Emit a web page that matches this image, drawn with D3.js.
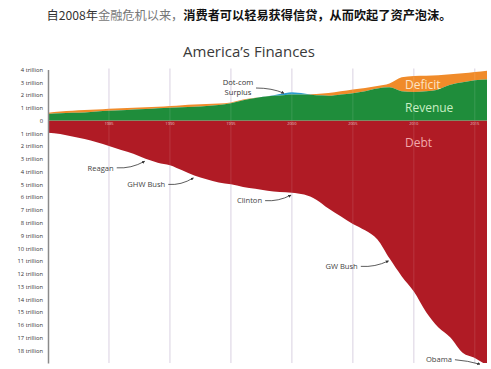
<!DOCTYPE html>
<html>
<head>
<meta charset="utf-8">
<script src="https://cdn.jsdelivr.net/npm/d3@7"></script>
<style>
  html, body { margin: 0; padding: 0; background: #fff; }
  svg { display: block; }
</style>
</head>
<body>
<svg id="chart"></svg>
<script>
// values, in trillions of dollars
const years = d3.range(1980, 2017)
const revenue = [0.52, 0.58, 0.62, 0.64, 0.70, 0.76, 0.80, 0.86, 0.90, 0.96,
  1.00, 1.04, 1.08, 1.14, 1.22, 1.36, 1.60, 1.76, 1.90, 2.08,
  2.22, 2.12, 1.98, 1.94, 2.04, 2.14, 2.30, 2.52, 2.60, 2.30,
  2.24, 2.30, 2.44, 2.80, 3.00, 3.16, 3.22]
const spending = [0.62, 0.70, 0.76, 0.82, 0.86, 0.92, 0.96, 1.00, 1.04, 1.08,
  1.14, 1.20, 1.26, 1.30, 1.34, 1.42, 1.64, 1.78, 1.90, 1.96,
  2.04, 2.04, 2.08, 2.16, 2.30, 2.44, 2.56, 2.70, 2.90, 3.40,
  3.50, 3.52, 3.54, 3.62, 3.70, 3.80, 3.90]
const debt = [0.95, 1.05, 1.25, 1.45, 1.70, 2.00, 2.30, 2.60, 3.00, 3.30,
  3.50, 3.90, 4.30, 4.60, 4.85, 5.00, 5.20, 5.35, 5.50, 5.60,
  5.65, 5.80, 6.20, 6.90, 7.50, 8.10, 8.60, 9.30, 10.8, 12.2,
  13.4, 15.0, 16.2, 17.0, 18.2, 18.6, 19.2]
const gridYears = [1985, 1990, 1995, 2000, 2005, 2010, 2015]
const yTicks = d3.range(-18, 5)
const presidents = [
  { name: 'Reagan', year: 1988, dx: -58, dy: 7 },
  { name: 'GHW Bush', year: 1992, dx: -67, dy: 7 },
  { name: 'Clinton', year: 2000, dx: -55, dy: 6 },
  { name: 'GW Bush', year: 2008, dx: -64, dy: 6 },
  { name: 'Obama', year: 2015.5, dx: -55, dy: -4 }
]

const width = 491
const height = 369
const svg = d3.select('#chart').attr('width', width).attr('height', height)

const data = years.map((yr, i) => ({
  year: yr, rev: revenue[i], spend: spending[i], debt: debt[i]
}))

// SCALES
const x = d3.scaleLinear().domain([1980, 2016]).range([48, 487])
const y = d3.scaleLinear().domain([-19, 4]).range([363, 69.5])
const debtAt = d3.scaleLinear().domain(years).range(debt)

// HEADER
const header = svg.append('text')
  .attr('x', 249).attr('y', 20)
  .attr('text-anchor', 'middle')
  .style('font-family', '"Noto Sans CJK SC"')
  .style('font-size', '12.2px')
header.append('tspan').attr('fill', '#333').text('自2008年')
header.append('tspan').attr('fill', '#777').text('金融危机以来，')
header.append('tspan').attr('fill', '#111').style('font-weight', 'bold')
  .text('消费者可以轻易获得信贷，从而吹起了资产泡沫。')

svg.append('text')
  .attr('x', 249).attr('y', 57)
  .attr('text-anchor', 'middle')
  .attr('fill', '#3a3a3a')
  .style('font-family', '"Open Sans"')
  .style('font-size', '15px')
  .text('America\u2019s Finances')

const clip = svg.append('defs').append('clipPath').attr('id', 'plot')
clip.append('rect').attr('x', 48).attr('y', 60).attr('width', 439).attr('height', 303)

// GRID (behind)
svg.append('g').selectAll('line').data(gridYears).join('line')
  .attr('x1', d => x(d)).attr('x2', d => x(d))
  .attr('y1', y(4) - 1).attr('y2', y(-19))
  .attr('stroke', '#d8cfe0').attr('stroke-width', 1)

const plot = svg.append('g').attr('clip-path', 'url(#plot)')
const curve = d3.curveMonotoneX
const lower = d => Math.min(d.rev, d.spend)

// AREAS
plot.append('path').datum(data)
  .attr('fill', '#b01b25')
  .attr('d', d3.area().curve(curve).x(d => x(d.year)).y0(y(0)).y1(d => y(-d.debt)))
plot.append('path').datum(data)
  .attr('fill', '#f08b2a')
  .attr('d', d3.area().curve(curve).x(d => x(d.year))
    .y0(d => y(lower(d))).y1(d => y(d.spend)))
plot.append('path').datum(data)
  .attr('fill', '#2b9ccf')
  .attr('d', d3.area().curve(curve).x(d => x(d.year))
    .y0(d => y(lower(d))).y1(d => y(Math.max(d.rev, lower(d)))))
plot.append('path').datum(data)
  .attr('fill', '#1f8d3b')
  .attr('d', d3.area().curve(curve).x(d => x(d.year))
    .y0(y(0)).y1(d => y(lower(d))))

// GRID over the filled areas
plot.append('g').selectAll('line').data(gridYears).join('line')
  .attr('x1', d => x(d)).attr('x2', d => x(d))
  .attr('y1', y(4)).attr('y2', y(-19))
  .attr('stroke', '#fff').attr('stroke-opacity', 0.12).attr('stroke-width', 1)

plot.append('g').selectAll('text').data(gridYears).join('text')
  .attr('x', d => x(d)).attr('y', y(0) + 4.5)
  .attr('text-anchor', 'middle')
  .attr('fill', '#fff').attr('fill-opacity', 0.7)
  .style('font-family', '"Open Sans"').style('font-size', '4px')
  .text(d => d)

// AXIS
const axis = svg.append('g')
  .attr('transform', 'translate(48,0)')
  .call(d3.axisLeft(y).tickValues(yTicks).tickSize(0).tickPadding(5)
    .tickFormat(v => v === 0 ? '0' : `${Math.abs(v)} trillion`))
axis.select('.domain').attr('stroke', '#8a8a8a').attr('stroke-width', 1.5)
axis.selectAll('text')
  .attr('fill', '#333')
  .style('font-family', '"Open Sans"').style('font-size', '5.8px')

// SERIES LABELS
const big = [
  { t: 'Deficit', yv: 2.5, c: '#fde4c4' },
  { t: 'Revenue', yv: 0.67, c: '#c8eec4' },
  { t: 'Debt', yv: -2.1, c: '#f2a9ab' }
]
svg.append('g').selectAll('text').data(big).join('text')
  .attr('x', 405).attr('y', d => y(d.yv))
  .attr('fill', d => d.c)
  .style('font-family', '"Open Sans"').style('font-size', '12px')
  .text(d => d.t)

// ANNOTATIONS
svg.append('defs').append('marker')
  .attr('id', 'arrow').attr('viewBox', '0 0 6 6')
  .attr('refX', 5).attr('refY', 3)
  .attr('markerWidth', 4).attr('markerHeight', 4)
  .attr('orient', 'auto')
  .append('path').attr('d', 'M0,0L6,3L0,6Z').attr('fill', '#333')

const notes = svg.append('g')
  .style('font-family', '"Open Sans"').style('font-size', '7.6px')

presidents.forEach(p => {
  const tx = x(p.year)
  const ty = y(-debtAt(p.year)) + 2
  const sx = tx + p.dx
  const sy = ty + p.dy
  const txt = notes.append('text')
    .attr('x', sx).attr('y', sy + 2.7)
    .attr('fill', '#444')
    .text(p.name)
  const w = txt.node().getComputedTextLength()
  const ax = sx + w + 3
  notes.append('path')
    .attr('d', `M${ax},${sy}Q${(ax + tx) / 2},${sy + 1} ${tx - 1},${ty + 0.5}`)
    .attr('fill', 'none').attr('stroke', '#333').attr('stroke-width', 0.8)
    .attr('marker-end', 'url(#arrow)')
})

// dot-com surplus note
const surplusYear = 2000
notes.append('text').attr('x', 238).attr('y', 84.5).attr('text-anchor', 'middle')
  .attr('fill', '#333').text('Dot-com')
notes.append('text').attr('x', 238).attr('y', 94.5).attr('text-anchor', 'middle')
  .attr('fill', '#333').text('Surplus')
notes.append('path')
  .attr('d', `M256,88Q272,88 ${x(surplusYear) - 8},${y(revenue[20]) + 1}`)
  .attr('fill', 'none').attr('stroke', '#333').attr('stroke-width', 0.8)
  .attr('marker-end', 'url(#arrow)')
</script>
</body>
</html>
